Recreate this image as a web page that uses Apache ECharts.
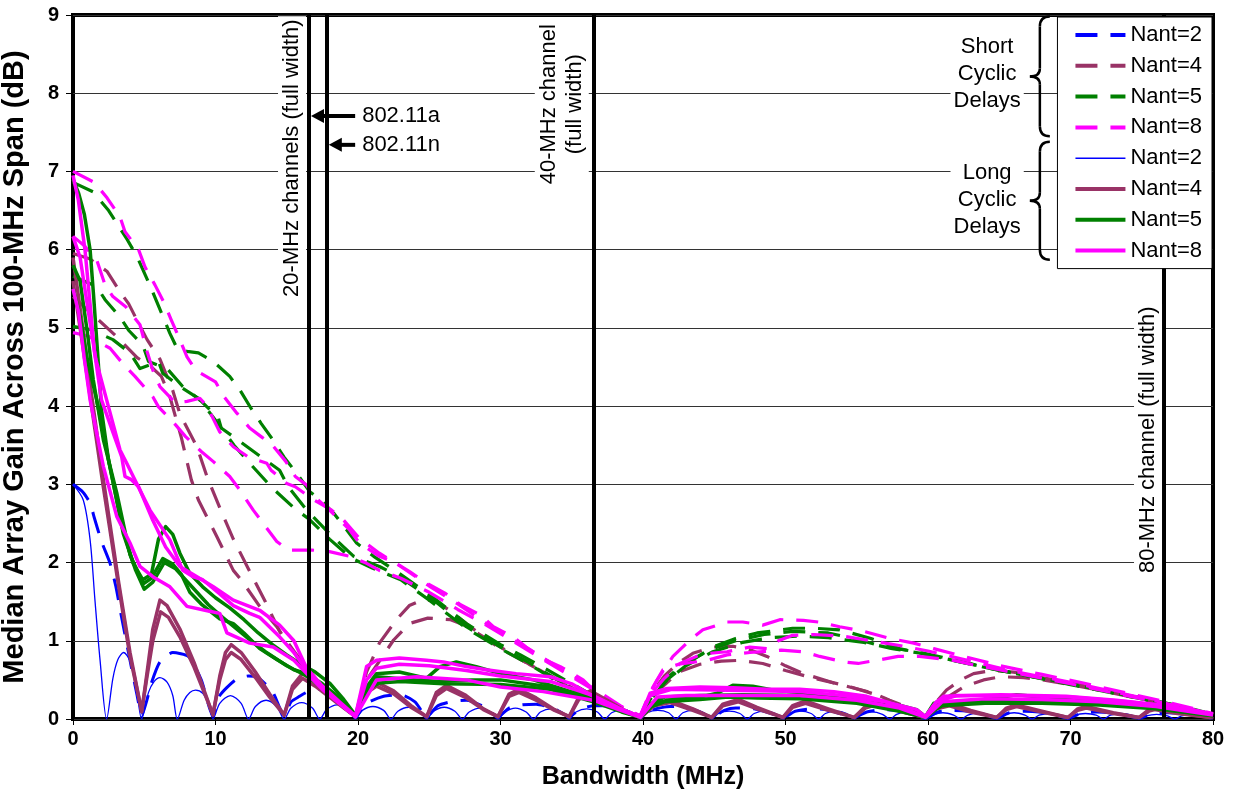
<!DOCTYPE html>
<html><head><meta charset="utf-8">
<script src="https://cdn.jsdelivr.net/npm/echarts/dist/echarts.min.js"></script>
<style>html,body{margin:0;padding:0;background:#fff}#c{width:1234px;height:799px}</style>
</head><body><div id="c"></div>
<script>
// ---------------- DATA ----------------
const X_TICKS = [0,10,20,30,40,50,60,70,80];
const Y_TICKS = [0,1,2,3,4,5,6,7,8,9];
const LEGEND_NAMES = ['Short Nant=2','Short Nant=4','Short Nant=5','Short Nant=8','Long Nant=2','Long Nant=4','Long Nant=5','Long Nant=8'];
const CHANNEL_LINES = [16.56, 17.8, 36.56, 76.56];

// Short cyclic delays (dashed)
const SHORT_N2 = [[0,3.0],[0.7,2.9],[1.2,2.76],[1.5,2.57],[2.0,2.27],[2.6,1.99],[3.0,1.7],[3.4,1.31],[4.0,0.75],[4.5,0.3],[4.82,0.04],[5.2,0.25],[5.5,0.46],[6.1,0.73],[7.0,0.85],[8.1,0.8],[9,0.5],[9.82,0.04],[10.3,0.3],[11.4,0.5],[12.3,0.55],[12.9,0.54],[14,0.35],[14.82,0.04],[15.3,0.22],[15.9,0.29],[16.5,0.35],[17.3,0.38],[18.5,0.28],[19.82,0.03],[20.6,0.2],[21.8,0.29],[23,0.31],[24,0.22],[24.82,0.03],[25.6,0.17],[26.5,0.22],[27.6,0.24],[28.8,0.16],[29.82,0.03],[30.6,0.14],[31.5,0.18],[32.5,0.19],[33.8,0.13],[34.82,0.03],[35.6,0.13],[36.6,0.17],[37.6,0.17],[38.8,0.1],[39.82,0.02],[40.7,0.12],[41.9,0.16],[43,0.15],[44,0.09],[44.82,0.02],[45.7,0.11],[46.5,0.14],[47.8,0.13],[49,0.07],[49.82,0.02],[50.7,0.1],[51.8,0.13],[52.8,0.12],[54,0.06],[54.82,0.02],[55.7,0.09],[56.8,0.12],[57.8,0.11],[59,0.05],[59.82,0.01],[60.7,0.09],[61.8,0.11],[62.8,0.1],[64,0.05],[64.82,0.01],[65.7,0.08],[66.8,0.1],[67.8,0.09],[69,0.05],[69.82,0.01],[70.7,0.07],[71.8,0.09],[72.8,0.08],[74,0.04],[74.82,0.01],[75.7,0.06],[76.8,0.08],[77.8,0.07],[80,0.03]];
const SHORT_N4_A = [[0,5.95],[1.2,5.88],[2.4,5.72],[3.3,5.46],[3.9,5.31],[4.6,5.06],[5.2,4.85],[6.1,4.6],[7,4.2],[7.5,3.9],[8.7,3.48],[9.4,3.1],[10.3,2.7],[11.25,2.3],[12.5,1.85],[13.5,1.5],[14.5,1.12],[15.7,0.82],[16.6,0.62],[17.8,0.33],[19.8,0.03],[20.6,0.6],[21.5,0.97],[22.7,1.27],[23.6,1.45],[24.6,1.53],[25.5,1.5],[26.5,1.38],[27.6,1.22],[28.8,1.05],[30,0.92],[32,0.7],[34,0.5],[36,0.3],[38,0.14],[39.8,0.03],[40.5,0.3],[41.5,0.55],[42.5,0.72],[43.5,0.84],[44.9,0.92],[46.3,0.93],[47.3,0.9],[48.7,0.8],[50,0.68],[51.25,0.58],[53.4,0.46],[54.5,0.41],[56.2,0.33],[57.3,0.24],[58.7,0.14],[59.8,0.03],[60.5,0.2],[61.3,0.37],[62.3,0.5],[63.2,0.58],[64.5,0.62],[66,0.6],[68,0.53],[70,0.46],[73,0.35],[76,0.23],[78,0.14],[80,0.06]];
const SHORT_N4_B = [[0,5.4],[1.5,5.15],[3,4.9],[4.5,4.62],[5.5,4.5],[6.2,4.38],[6.8,4.12],[7.6,3.6],[8.3,3.06],[8.8,2.8],[10.1,2.33],[11.25,1.9],[11.8,1.78],[13.1,1.44],[14.3,1.18],[15.7,0.8],[17,0.5],[17.8,0.33],[19.8,0.03],[20.8,0.55],[22.5,1.01],[23.6,1.22],[24.9,1.29],[26.5,1.27],[27.5,1.2],[28.8,1.05],[30,0.9],[32,0.7],[34,0.5],[36,0.3],[38,0.13],[39.8,0.03],[41,0.35],[42.5,0.6],[44,0.7],[45.5,0.74],[46.8,0.75],[48.4,0.71],[50,0.62],[52,0.52],[54.4,0.42],[56.2,0.32],[58,0.18],[59.8,0.03],[60.7,0.2],[62.5,0.41],[63.9,0.5],[65.1,0.54],[66.7,0.53],[68,0.5],[70,0.44],[73,0.33],[76,0.21],[80,0.05]];
const SHORT_N5_A = [[0,6.86],[1.4,6.74],[2.5,6.5],[3.8,6.13],[4.5,5.91],[5.5,5.5],[6.8,4.93],[7.3,4.74],[8,4.7],[8.8,4.68],[9.85,4.57],[11,4.38],[11.7,4.21],[12.5,3.97],[13.2,3.78],[14.1,3.55],[14.8,3.35],[15.7,3.14],[16.6,2.91],[17.6,2.76],[18.3,2.63],[19.2,2.42],[19.9,2.25],[21.1,2.08],[22.9,1.86],[25.3,1.55],[27.6,1.22],[30,0.95],[31.4,0.82],[33,0.66],[35,0.45],[36.5,0.3],[38.3,0.14],[39.8,0.04],[40.5,0.25],[41.4,0.46],[43.1,0.71],[44.9,0.92],[46.5,1.03],[48,1.1],[50.5,1.16],[52,1.16],[53.8,1.14],[56,1.03],[58,0.9],[60,0.82],[62,0.74],[63.9,0.67],[66.5,0.57],[69.7,0.46],[73,0.34],[76.3,0.22],[78.5,0.13],[80,0.06]];
const SHORT_N5_B = [[0,5.66],[1.66,5.53],[2.25,5.36],[3.3,5.14],[3.9,4.97],[4.9,4.78],[5.3,4.57],[6.6,4.48],[7.7,4.25],[8.9,4.08],[10.2,3.85],[10.4,3.72],[11.7,3.55],[13.2,3.35],[14.5,3.18],[15.1,2.97],[16.4,2.67],[18,2.37],[19.7,2.08],[21.5,1.95],[22.9,1.82],[25.3,1.52],[27.6,1.18],[30,0.92],[32,0.72],[34,0.5],[36.5,0.27],[38.3,0.12],[39.8,0.04],[40.6,0.3],[41.5,0.5],[43,0.72],[44.9,0.9],[46.5,1.0],[48.5,1.08],[50.5,1.12],[53,1.1],[55,1.02],[57,0.92],[59.2,0.86],[61,0.79],[64,0.66],[67,0.55],[70,0.44],[73,0.33],[76.3,0.21],[80,0.05]];
const SHORT_N5_C = [[0,5.02],[1.2,4.98],[2.8,4.85],[4,4.68],[4.7,4.48],[6,4.57],[6.3,4.42],[7.5,4.25],[8.8,4.1],[10,3.82],[11.3,3.5],[12.5,3.25],[14,2.95],[15.5,2.7],[16.6,2.55],[18,2.3],[19.5,2.06],[21,1.93],[23,1.78],[25,1.52],[27.6,1.16],[30,0.9],[32,0.7],[34,0.48],[36.5,0.26],[38.3,0.11],[39.8,0.03],[40.7,0.28],[41.6,0.48],[43,0.68],[44.9,0.86],[47,0.98],[49,1.04],[51,1.06],[53,1.04],[55.5,0.98],[57.5,0.9],[59.5,0.84],[62,0.74],[65,0.62],[68,0.52],[71,0.41],[74,0.3],[77,0.19],[80,0.05]];
const SHORT_N8_A = [[0,7.0],[1.5,6.86],[2.4,6.66],[3.3,6.42],[3.65,6.23],[4.6,6.0],[5.05,5.78],[5.75,5.55],[6.34,5.34],[6.9,5.1],[7.4,4.89],[8,4.63],[8.6,4.46],[10,4.31],[10.6,4.12],[11.5,3.91],[12.4,3.72],[13.2,3.61],[14,3.5],[14.9,3.3],[15.6,3.1],[16.4,2.99],[16.9,2.85],[18,2.67],[19.4,2.42],[20.1,2.25],[21.5,2.08],[22.5,2.01],[23.65,1.88],[24.8,1.74],[26.1,1.61],[27.2,1.46],[28.6,1.33],[29.5,1.18],[30.9,1.05],[31.8,0.92],[33.2,0.75],[34.2,0.67],[35.8,0.5],[36.3,0.41],[38.4,0.16],[39.8,0.04],[40.4,0.3],[41,0.5],[42.1,0.8],[43.3,1.01],[44.2,1.14],[45.9,1.24],[47,1.24],[48.4,1.2],[49.6,1.27],[51.25,1.26],[52.3,1.24],[53.8,1.18],[55.5,1.12],[57.3,1.03],[59,0.97],[60.4,0.9],[62.5,0.8],[65.1,0.68],[68,0.57],[70.9,0.46],[73.5,0.35],[76.7,0.22],[78.5,0.14],[80,0.07]];
const SHORT_N8_B = [[0,6.17],[0.8,6.05],[1.66,5.87],[2.25,5.55],[2.8,5.4],[3.7,5.27],[4.7,5.04],[5.2,4.7],[5.6,4.46],[6.1,4.25],[7.2,4.04],[8,4.06],[8.9,4.1],[9.4,4.0],[10.3,3.67],[11.25,3.48],[12.3,3.35],[13.6,3.27],[13.9,3.18],[15,3.01],[15.6,2.97],[16.9,2.8],[18.15,2.67],[19,2.54],[20.1,2.31],[21.5,2.12],[23,1.95],[25,1.7],[27,1.47],[29,1.22],[31,1.0],[33,0.78],[35,0.56],[36.8,0.36],[38.4,0.17],[39.8,0.04],[40.6,0.33],[41.5,0.52],[42.6,0.71],[44,0.82],[44.7,0.84],[45.9,0.86],[47.5,0.92],[48.7,0.9],[49.5,1.0],[50.5,1.07],[52,1.08],[54,1.06],[56,1.0],[58,0.94],[60,0.87],[63,0.74],[66,0.61],[70,0.47],[75,0.27],[80,0.06]];
const SHORT_N8_C = [[0,4.94],[1,4.9],[2.6,4.74],[3.6,4.52],[4.35,4.38],[5.6,4.12],[6,3.99],[7.2,3.76],[7.9,3.61],[9,3.42],[9.85,3.29],[11,3.1],[11.7,2.93],[12.65,2.67],[13.35,2.5],[14.3,2.27],[15.1,2.16],[16.75,2.16],[18,2.14],[19.4,2.08],[20.6,1.99],[21.5,1.9],[23,1.8],[25,1.62],[27,1.4],[29,1.2],[31,0.98],[33,0.76],[35,0.54],[37,0.32],[38.5,0.15],[39.8,0.04],[40.7,0.41],[41.4,0.63],[42.5,0.7],[44.5,0.75],[45.9,0.82],[47.5,0.85],[49.7,0.88],[51.25,0.86],[52.4,0.8],[54.1,0.73],[55.1,0.71],[56.7,0.76],[57.9,0.8],[59.4,0.8],[61.8,0.75],[63,0.7],[65,0.63],[70,0.45],[76,0.22],[80,0.06]];

// Long cyclic delays (solid)
const LONG_N2 = [[0,3.0],[0.72,2.8],[1.2,2.29],[1.54,1.52],[1.9,0.75],[2.36,0],
 [2.8,0.52],[3.15,0.76],[3.55,0.85],[4.0,0.74],[4.4,0.46],[4.82,0],
 [5.3,0.34],[5.7,0.48],[6.1,0.53],[6.6,0.47],[7.0,0.3],[7.32,0],
 [7.8,0.24],[8.2,0.34],[8.6,0.37],[9.1,0.33],[9.5,0.2],[9.82,0],
 [10.3,0.2],[11.05,0.3],[11.8,0.2],[12.32,0],
 [12.8,0.16],[13.55,0.24],[14.3,0.16],[14.82,0],
 [15.3,0.14],[16.05,0.21],[16.8,0.14],[17.32,0],
 [17.8,0.12],[18.55,0.18],[19.3,0.12],[19.82,0],
 [20.3,0.11],[21.05,0.16],[21.8,0.11],[22.32,0],
 [22.8,0.1],[23.55,0.15],[24.3,0.1],[24.82,0],
 [25.3,0.1],[26.05,0.15],[26.8,0.1],[27.32,0],
 [27.8,0.09],[28.55,0.14],[29.3,0.09],[29.82,0],
 [30.3,0.09],[31.05,0.14],[31.8,0.09],[32.32,0],
 [32.8,0.09],[33.55,0.13],[34.3,0.09],[34.82,0],
 [35.3,0.09],[36.05,0.13],[36.8,0.09],[37.32,0],
 [37.8,0.08],[38.55,0.12],[39.3,0.08],[39.82,0],
 [40.3,0.08],[41.05,0.11],[41.8,0.08],[42.32,0],
 [42.8,0.08],[43.55,0.11],[44.3,0.08],[44.82,0],
 [45.3,0.07],[46.05,0.1],[46.8,0.07],[47.32,0],
 [47.8,0.07],[48.55,0.1],[49.3,0.07],[49.82,0],
 [50.3,0.07],[51.05,0.1],[51.8,0.07],[52.32,0],
 [52.8,0.07],[53.55,0.1],[54.3,0.07],[54.82,0],
 [55.3,0.06],[56.05,0.09],[56.8,0.06],[57.32,0],
 [57.8,0.06],[58.55,0.09],[59.3,0.06],[59.82,0],
 [60.3,0.05],[61.05,0.08],[61.8,0.05],[62.32,0],
 [62.8,0.05],[63.55,0.08],[64.3,0.05],[64.82,0],
 [65.3,0.05],[66.05,0.08],[66.8,0.05],[67.32,0],
 [67.8,0.05],[68.55,0.07],[69.3,0.05],[69.82,0],
 [70.3,0.05],[71.05,0.07],[71.8,0.05],[72.32,0],
 [72.8,0.05],[73.55,0.07],[74.3,0.05],[74.82,0],
 [75.3,0.04],[76.05,0.06],[76.8,0.04],[77.32,0],
 [77.8,0.04],[78.55,0.06],[79.3,0.04],[79.82,0],[80,0.01]];
const LONG_N4_A = [[0,5.9],[0.5,5.25],[1.3,4.15],[2.1,3.1],[3.2,1.75],[4,0.85],[4.82,0.09],[5.2,0.6],[5.6,1.15],[6.1,1.52],[6.6,1.45],[7.5,1.15],[8.5,0.72],[9.82,0.05],[10.3,0.55],[10.7,0.85],[11.1,0.95],[11.8,0.85],[12.8,0.6],[13.8,0.32],[14.82,0.05],[15.4,0.42],[16.1,0.58],[17,0.47],[18.5,0.24],[19.82,0.03],[20.5,0.35],[21.3,0.47],[22.5,0.36],[23.8,0.16],[24.82,0.03],[25.5,0.34],[26.2,0.43],[27.5,0.31],[28.8,0.13],[29.82,0.03],[30.6,0.32],[31.3,0.38],[32.5,0.27],[33.8,0.12],[34.82,0.03],[35.5,0.28],[36.3,0.36],[37.5,0.24],[38.8,0.1],[39.82,0.02],[40.8,0.19],[41.9,0.24],[43.5,0.13],[44.82,0.02],[45.6,0.19],[46.7,0.25],[48,0.15],[49.82,0.02],[50.5,0.17],[51.4,0.23],[53,0.13],[54.82,0.02],[55.6,0.16],[56.5,0.21],[58,0.11],[59.82,0.02],[60.6,0.15],[61.5,0.2],[63,0.11],[64.82,0.02],[65.5,0.14],[66.2,0.18],[68,0.1],[69.82,0.02],[70.5,0.13],[71.1,0.16],[73,0.08],[74.82,0.02],[75.5,0.12],[75.9,0.14],[77.5,0.08],[79.82,0.02],[80,0.03]];
const LONG_N4_B = [[0,5.6],[0.5,5.0],[1.3,4.0],[2.1,3.0],[3.2,1.7],[4,0.8],[4.82,0.1],[5.2,0.55],[5.6,1.0],[6.15,1.37],[6.7,1.3],[7.5,1.05],[8.5,0.66],[9.82,0.06],[10.3,0.5],[10.7,0.76],[11.1,0.85],[11.8,0.76],[12.8,0.53],[13.8,0.28],[14.82,0.05],[15.4,0.38],[16.1,0.52],[17,0.42],[18.5,0.21],[19.82,0.03],[20.5,0.32],[21.3,0.42],[22.5,0.32],[23.8,0.14],[24.82,0.03],[25.5,0.3],[26.2,0.39],[27.5,0.28],[28.8,0.12],[29.82,0.03],[30.6,0.29],[31.3,0.34],[32.5,0.24],[33.8,0.11],[34.82,0.03],[35.5,0.25],[36.3,0.32],[37.5,0.21],[38.8,0.09],[39.82,0.02],[40.8,0.17],[41.9,0.21],[43.5,0.11],[44.82,0.02],[45.6,0.17],[46.7,0.22],[48,0.13],[49.82,0.02],[50.5,0.15],[51.4,0.2],[53,0.11],[54.82,0.02],[55.6,0.14],[56.5,0.19],[58,0.1],[59.82,0.02],[60.6,0.13],[61.5,0.17],[63,0.09],[64.82,0.02],[65.5,0.12],[66.2,0.16],[68,0.09],[69.82,0.02],[70.5,0.11],[71.1,0.14],[73,0.07],[74.82,0.02],[75.5,0.1],[75.9,0.12],[77.5,0.07],[79.82,0.02],[80,0.03]];
const LONG_N5_A = [[0,6.9],[0.4,6.72],[0.8,6.45],[1.2,6.0],[1.45,5.4],[1.7,4.75],[2.0,3.95],[2.5,3.3],[2.9,2.95],[3.5,2.42],[4.2,2.0],[4.9,1.78],[5.5,1.85],[6.0,2.3],[6.5,2.46],[7.0,2.36],[7.5,2.12],[8.2,1.86],[9.1,1.69],[10,1.55],[11,1.42],[12,1.27],[13,1.1],[14,0.95],[15,0.82],[16,0.7],[17,0.6],[18,0.46],[19,0.25],[19.82,0.05],[20.6,0.41],[21.3,0.58],[22.9,0.6],[24.8,0.52],[25.75,0.67],[26.9,0.73],[28.3,0.67],[30,0.58],[32.3,0.5],[34.6,0.37],[36.5,0.26],[38.3,0.12],[39.82,0.03],[40.6,0.18],[41.7,0.24],[44,0.28],[45.2,0.33],[46.3,0.43],[47.7,0.42],[49.1,0.37],[51,0.34],[53,0.3],[55.7,0.24],[57.5,0.2],[59.2,0.12],[59.82,0.03],[60.4,0.2],[62.7,0.22],[64.5,0.26],[66.2,0.31],[68,0.28],[69.7,0.26],[73.2,0.22],[76.3,0.16],[80,0.05]];
const LONG_N5_B = [[0,5.8],[0.5,5.6],[1.0,4.95],[1.42,4.34],[2.13,3.57],[3.07,2.89],[4,2.1],[4.93,1.73],[5.5,1.8],[6.3,2.05],[7,1.98],[7.6,1.85],[8.2,1.62],[9,1.47],[10.3,1.28],[11.25,1.22],[12,1.1],[13.1,0.9],[14.3,0.76],[15.5,0.63],[16.4,0.58],[17.5,0.45],[18.5,0.3],[19.82,0.05],[20.8,0.42],[21.3,0.54],[24.1,0.5],[25.75,0.48],[28,0.5],[30,0.5],[33.5,0.41],[36.5,0.25],[38.5,0.1],[39.82,0.02],[40.6,0.2],[41.5,0.28],[44,0.3],[47,0.31],[51,0.3],[55,0.22],[58,0.12],[59.82,0.02],[60.6,0.16],[61,0.2],[64,0.23],[68,0.23],[72,0.2],[76,0.14],[80,0.04]];
const LONG_N5_C = [[0,5.5],[0.5,5.15],[1,4.6],[1.66,4.08],[2.83,3.01],[3.53,2.37],[4.4,1.9],[5.0,1.66],[5.6,1.75],[6.4,2.0],[7.2,1.92],[8.2,1.72],[9.5,1.46],[10.5,1.3],[11.5,1.15],[12.5,1.0],[13.5,0.86],[15,0.68],[16.4,0.55],[17.5,0.4],[18.7,0.22],[19.82,0.05],[20.7,0.38],[21.5,0.46],[23,0.48],[26,0.45],[30,0.44],[33.5,0.38],[36.5,0.22],[38.5,0.09],[39.82,0.02],[40.6,0.16],[41.5,0.22],[44,0.25],[46,0.28],[48,0.27],[51,0.26],[55,0.2],[58,0.1],[59.82,0.02],[60.6,0.13],[61,0.17],[64,0.2],[68,0.2],[72,0.18],[76,0.13],[80,0.04]];
const LONG_N8_A = [[0,6.95],[0.14,6.83],[0.37,6.64],[0.84,6.0],[1.2,5.3],[1.5,4.7],[2.0,4.08],[2.83,3.65],[3.42,3.35],[3.65,3.1],[4.1,3.06],[4.6,2.97],[5.6,2.54],[6.5,2.2],[7.5,1.95],[8.7,1.82],[9.85,1.69],[11.25,1.52],[13.1,1.39],[14.5,1.2],[15.5,1.0],[16.4,0.65],[17.5,0.42],[18.7,0.22],[19.82,0.04],[20.6,0.67],[21.3,0.75],[22.9,0.78],[24.8,0.75],[26,0.73],[27.6,0.67],[29,0.63],[31.1,0.58],[33.5,0.54],[35,0.45],[36.5,0.29],[38.3,0.14],[39.82,0.03],[40.5,0.33],[41.7,0.39],[44,0.41],[46.3,0.4],[48.7,0.38],[51,0.38],[53.4,0.35],[55.7,0.29],[57.5,0.2],[59.2,0.12],[59.82,0.03],[60.5,0.2],[61.1,0.29],[65.1,0.31],[69.7,0.29],[73.2,0.24],[76.3,0.18],[79.8,0.07]];
const LONG_N8_B = [[0,6.17],[0.5,5.9],[1.0,5.3],[1.6,4.6],[2.36,4.08],[3.3,3.44],[3.77,3.27],[4.47,3.01],[5.4,2.67],[6.8,2.29],[7.7,1.9],[8.4,1.82],[9.1,1.78],[10.3,1.6],[11.25,1.45],[12.4,1.35],[13.1,1.3],[14.5,1.05],[15.5,0.85],[16.4,0.62],[17.5,0.4],[18.7,0.2],[19.82,0.03],[20.6,0.5],[21.3,0.65],[22.9,0.7],[25,0.68],[27.6,0.62],[30,0.55],[33.5,0.48],[36.5,0.3],[38.3,0.14],[39.82,0.03],[40.5,0.3],[42,0.38],[45,0.37],[48,0.36],[51,0.35],[54,0.3],[57,0.22],[59.82,0.03],[60.6,0.22],[62,0.3],[66,0.3],[70,0.28],[74,0.22],[77,0.16],[80,0.06]];
const LONG_N8_C = [[0,5.5],[0.4,5.2],[0.8,4.6],[1.2,4.08],[2.13,3.23],[3.07,2.59],[4,2.25],[4.7,1.95],[5.6,1.82],[6.8,1.69],[8,1.44],[9.5,1.38],[10.3,1.35],[10.8,1.1],[12.4,0.97],[14.05,0.92],[15.5,0.75],[16.4,0.58],[17.5,0.38],[18.7,0.2],[19.82,0.03],[21.3,0.5],[24.1,0.54],[27.6,0.5],[30,0.41],[33,0.35],[36.5,0.24],[38.3,0.12],[39.82,0.02],[41,0.28],[43,0.3],[47,0.3],[51,0.3],[55,0.24],[58,0.14],[59.82,0.02],[61,0.22],[64,0.26],[68,0.25],[72,0.22],[76,0.16],[80,0.05]];

// Annotation texts (anchor in data coordinates)
const CHANNEL_LABELS = [
  {text:'20-MHz channels (full width)', at:[15.37,7.17]},
  {text:'40-MHz channel\n(full width)', at:[34.3,7.86]},
  {text:'80-MHz channel (full width)', at:[75.44,3.57]}
];
const ARROWS = [
  {text:'802.11a', from:[19.8,7.71], to:[16.7,7.71]},
  {text:'802.11n', from:[19.8,7.34], to:[17.95,7.34]}
];
const BRACES = [
  {text:'Short\nCyclic\nDelays', top:8.98, bottom:7.45, tipX:67.15, spineX:67.85, endX:68.55, textAt:[64.15,8.25]},
  {text:'Long\nCyclic\nDelays', top:7.38, bottom:5.87, tipX:67.15, spineX:67.85, endX:68.55, textAt:[64.15,6.63]}
];

// ---------------- CHART ----------------
const FONT = '"Liberation Sans", Arial, sans-serif';
const BLUE='#0000FF', BROWN='#993366', GREEN='#008000', MAGENTA='#FF00FF';
const DASH=[22,13];
function mk(name, data, color, dashed, width, smooth, z){
  return {type:'line', name, data, symbol:'none', showSymbol:false, smooth: smooth||false,
    z: z||2, animation:false, silent:true,
    lineStyle:{color, width, type: dashed?DASH:'solid', cap:'butt', join:'round'},
    itemStyle:{color}};
}
const series = [
  mk('Short Nant=2', SHORT_N2, BLUE, true, 3, 0.2),
  mk('Short Nant=4', SHORT_N4_A, BROWN, true, 3.2),
  mk('Short Nant=4', SHORT_N4_B, BROWN, true, 3.2),
  mk('Short Nant=5', SHORT_N5_A, GREEN, true, 3.2),
  mk('Short Nant=5', SHORT_N5_B, GREEN, true, 3.2),
  mk('Short Nant=5', SHORT_N5_C, GREEN, true, 3.2),
  mk('Short Nant=8', SHORT_N8_A, MAGENTA, true, 3.2),
  mk('Short Nant=8', SHORT_N8_B, MAGENTA, true, 3.2),
  mk('Short Nant=8', SHORT_N8_C, MAGENTA, true, 3.2),
  mk('Long Nant=2', LONG_N2, BLUE, false, 1.3, 0.3),
  mk('Long Nant=4', LONG_N4_A, BROWN, false, 3.5),
  mk('Long Nant=4', LONG_N4_B, BROWN, false, 3.5),
  mk('Long Nant=5', LONG_N5_A, GREEN, false, 3.5),
  mk('Long Nant=5', LONG_N5_B, GREEN, false, 3.5),
  mk('Long Nant=5', LONG_N5_C, GREEN, false, 3.5),
  mk('Long Nant=8', LONG_N8_A, MAGENTA, false, 3.5),
  mk('Long Nant=8', LONG_N8_B, MAGENTA, false, 3.5),
  mk('Long Nant=8', LONG_N8_C, MAGENTA, false, 3.5),
  {type:'line', name:'channels', data:[], z:3, silent:true, animation:false,
   markLine:{symbol:'none', silent:true, animation:false, label:{show:false},
     lineStyle:{color:'#000', width:4, type:'solid'},
     data: CHANNEL_LINES.map(v=>({xAxis:v}))}}
];

const legendData = LEGEND_NAMES.map(n => ({name:n, lineStyle:{width: n === 'Long Nant=2' ? 1.5 : 4}}));

const chart = echarts.init(document.getElementById('c'), null, {renderer:'canvas'});
chart.setOption({
  animation:false,
  backgroundColor:'#fff',
  textStyle:{fontFamily:FONT},
  grid:{left:73, right:21, top:15, bottom:80, show:true, borderColor:'#000', borderWidth:4, backgroundColor:'transparent', containLabel:false, outerBoundsMode:'none'},
  xAxis:{type:'value', min:X_TICKS[0], max:X_TICKS[X_TICKS.length-1], interval:10,
    name:'Bandwidth (MHz)', nameLocation:'middle', nameGap:46,
    nameTextStyle:{fontSize:25, fontWeight:'bold', color:'#000', fontFamily:FONT},
    axisLine:{show:false}, splitLine:{show:false},
    axisTick:{show:true, length:6, inside:false, lineStyle:{color:'#000', width:1}},
    axisLabel:{fontSize:20, fontWeight:'bold', color:'#000', margin:10, fontFamily:FONT}},
  yAxis:{type:'value', min:Y_TICKS[0], max:Y_TICKS[Y_TICKS.length-1], interval:1,
    name:'Median Array Gain Across 100-MHz Span (dB)', nameLocation:'middle', nameGap:44,
    nameTextStyle:{fontSize:29, fontWeight:'bold', color:'#000', fontFamily:FONT},
    axisLine:{show:false},
    splitLine:{show:true, lineStyle:{color:'#333', width:1}},
    axisTick:{show:true, length:7, lineStyle:{color:'#000', width:1}},
    axisLabel:{fontSize:20, fontWeight:'bold', color:'#000', margin:14, fontFamily:FONT}},
  legend:{show:true, orient:'vertical', right:22, top:17, z:10,
    data: legendData,
    formatter: n => n.replace(/^(Short|Long) /,''),
    backgroundColor:'#fff', borderColor:'#000', borderWidth:1,
    padding:[7,10,7,16], itemWidth:50, itemHeight:16, itemGap:8.8,
    itemStyle:{opacity:0},
    selectedMode:false,
    textStyle:{fontSize:22, lineHeight:16, color:'#000', fontFamily:FONT}},
  series
});

// ---------------- ANNOTATIONS ----------------
const P = (pt) => chart.convertToPixel({gridIndex:0}, pt);
const graphics = [];
const ANNO_FONT = '22px ' + FONT;
CHANNEL_LABELS.forEach(l => {
  const p = P(l.at);
  graphics.push({type:'text', x:p[0], y:p[1], rotation:Math.PI/2, z:20,
    style:{text:l.text, font:ANNO_FONT, fill:'#000', align:'center', verticalAlign:'middle',
      backgroundColor:'#fff', padding:[1,3], lineHeight:26}});
});
ARROWS.forEach(a => {
  const f = P(a.from), t = P(a.to);
  graphics.push({type:'line', z:20, shape:{x1:f[0], y1:f[1], x2:t[0]+10, y2:t[1]}, style:{stroke:'#000', lineWidth:4}});
  graphics.push({type:'polygon', z:20, shape:{points:[[t[0],t[1]],[t[0]+13,t[1]-7],[t[0]+13,t[1]+7]]}, style:{fill:'#000'}});
  graphics.push({type:'text', z:20, x:f[0]+7, y:f[1], style:{text:a.text, font:ANNO_FONT, fill:'#000', align:'left', verticalAlign:'middle'}});
});
BRACES.forEach(b => {
  const top = P([b.spineX,b.top])[1], bot = P([b.spineX,b.bottom])[1];
  const tipX = P([b.tipX,0])[0], sx = P([b.spineX,0])[0], ex = P([b.endX,0])[0];
  const mid = (top+bot)/2;
  const st = {stroke:'#000', lineWidth:2.5, fill:'none'};
  graphics.push({type:'bezierCurve', z:20, shape:{x1:ex,y1:top,x2:sx,y2:top+10,cpx1:sx,cpy1:top}, style:st});
  graphics.push({type:'line', z:20, shape:{x1:sx,y1:top+10,x2:sx,y2:mid-8}, style:st});
  graphics.push({type:'bezierCurve', z:20, shape:{x1:sx,y1:mid-8,x2:tipX,y2:mid,cpx1:sx,cpy1:mid}, style:st});
  graphics.push({type:'bezierCurve', z:20, shape:{x1:tipX,y1:mid,x2:sx,y2:mid+8,cpx1:sx,cpy1:mid}, style:st});
  graphics.push({type:'line', z:20, shape:{x1:sx,y1:mid+8,x2:sx,y2:bot-10}, style:st});
  graphics.push({type:'bezierCurve', z:20, shape:{x1:sx,y1:bot-10,x2:ex,y2:bot,cpx1:sx,cpy1:bot}, style:st});
  const tp = P(b.textAt);
  graphics.push({type:'text', z:20, x:tp[0], y:tp[1], style:{text:b.text, font:ANNO_FONT, fill:'#000', align:'center', verticalAlign:'middle', lineHeight:27, backgroundColor:'#fff', padding:[0,3]}});
});
chart.setOption({graphic:{elements:graphics}});
</script>
</body></html>
